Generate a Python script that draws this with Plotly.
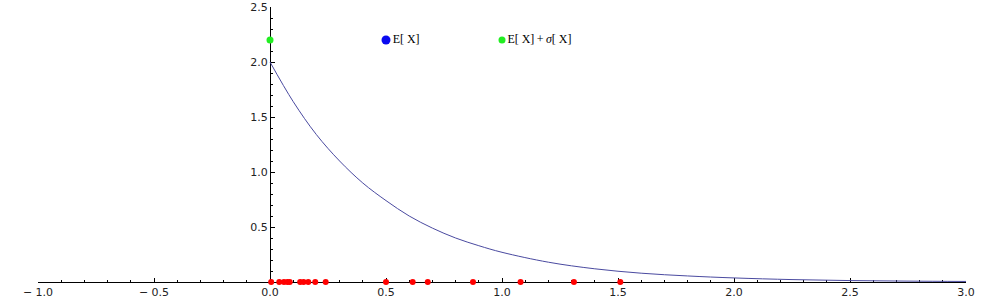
import plotly.graph_objects as go

# density curve
curve_x = [0, 0.1, 0.2, 0.3, 0.4, 0.5, 0.6, 0.7, 0.8, 0.9, 1.0, 1.2, 1.4, 1.6, 1.8, 2.0, 2.25, 2.5, 2.75, 3.0]
curve_y = [2.0, 1.64, 1.34, 1.10, 0.90, 0.74, 0.60, 0.49, 0.40, 0.33, 0.27, 0.18, 0.12, 0.08, 0.055, 0.037, 0.022, 0.013, 0.008, 0.005]

# sample points on the x axis
samples = [0.005, 0.04, 0.06, 0.075, 0.085, 0.13, 0.145, 0.165, 0.195, 0.24,
           0.5, 0.615, 0.68, 0.875, 1.08, 1.31, 1.51]

# marker points
mean_x = [0.5]
sigma_x = [0.0, 1.0]
marker_y = 2.2
mean_label = ["E[ X]"]
sigma_labels = ["", "E[ X]\u2009+\u2009<i>σ</i>[ X]"]

x_ticks = [-1.0, -0.5, 0.0, 0.5, 1.0, 1.5, 2.0, 2.5, 3.0]
x_ticktext = ["\u2212 1.0", "\u2212 0.5", "0.0", "0.5", "1.0", "1.5", "2.0", "2.5", "3.0"]
y_ticks = [0.5, 1.0, 1.5, 2.0, 2.5]
y_ticktext = ["0.5", "1.0", "1.5", "2.0", "2.5"]

fig = go.Figure()
fig.add_trace(go.Scatter(x=curve_x, y=curve_y, mode="lines",
                         line=dict(color="#4a4aa0", width=1, shape="spline", smoothing=1.0),
                         cliponaxis=False, hoverinfo="skip"))
fig.add_trace(go.Scatter(x=samples, y=[0] * len(samples), mode="markers",
                         marker=dict(color="#ff0000", size=6), cliponaxis=False))
fig.add_trace(go.Scatter(x=sigma_x, y=[marker_y] * len(sigma_x), mode="markers+text",
                         text=sigma_labels, textposition="middle right",
                         textfont=dict(family="Liberation Serif", size=12, color="#000000"),
                         marker=dict(color="#22ee22", size=7), cliponaxis=False))
fig.add_trace(go.Scatter(x=mean_x, y=[marker_y], mode="markers+text",
                         text=mean_label, textposition="middle right",
                         textfont=dict(family="Liberation Serif", size=12, color="#000000"),
                         marker=dict(color="#0a0af0", size=9), cliponaxis=False))

W, H = 1000, 300
fig.update_layout(
    width=W, height=H, margin=dict(l=0, r=0, t=0, b=0, autoexpand=False),
    paper_bgcolor="white", plot_bgcolor="white", showlegend=False,
    font=dict(family="DejaVu Sans", size=11, color="#222222"),
    xaxis=dict(domain=[38 / W, 966 / W], range=[-1, 3], anchor="free", position=18 / H,
               automargin=False,
               showgrid=False, zeroline=False, showline=True, linecolor="black", linewidth=1,
               ticks="inside", ticklen=4, tickcolor="black", tickwidth=1,
               tickmode="array", tickvals=x_ticks, ticktext=x_ticktext,
               minor=dict(tickmode="linear", tick0=0, dtick=0.1, ticks="inside", ticklen=2,
                          tickcolor="black", showgrid=False),
               layer="below traces", fixedrange=True),
    yaxis=dict(domain=[18 / H, 1 - 7 / H], range=[0, 2.5], anchor="free", position=270 / W,
               automargin=False,
               showgrid=False, zeroline=False, showline=True, linecolor="black", linewidth=1,
               ticks="inside", ticklen=4, tickcolor="black", tickwidth=1,
               tickmode="array", tickvals=y_ticks, ticktext=y_ticktext,
               minor=dict(tickmode="linear", tick0=0, dtick=0.1, ticks="inside", ticklen=2,
                          tickcolor="black", showgrid=False),
               layer="below traces", fixedrange=True),
)
fig.write_html("out.html")
